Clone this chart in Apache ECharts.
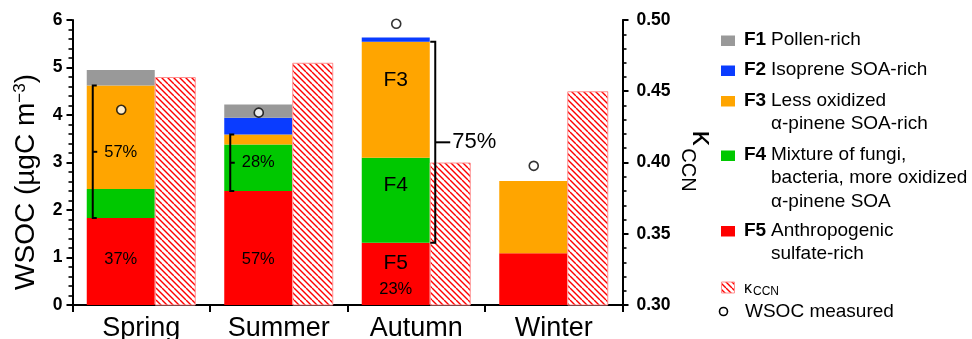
<!DOCTYPE html>
<html><head><meta charset="utf-8">
<script src="https://cdn.jsdelivr.net/npm/echarts/dist/echarts.min.js"></script>
<style>html,body{margin:0;padding:0;background:#fff}#c{width:972px;height:339px}</style>
</head><body><div id="c"></div>
<script>
// ---------- data ----------
const categories = ['Spring', 'Summer', 'Autumn', 'Winter'];
const f5 = [1.83, 2.40, 1.31, 1.09];   // Anthropogenic sulfate-rich
const f4 = [0.61, 0.98, 1.79, 0];      // Mixture of fungi, bacteria...
const f3 = [2.18, 0.21, 2.44, 1.52];   // Less oxidized a-pinene SOA-rich
const f2 = [0, 0.35, 0.09, 0];         // Isoprene SOA-rich
const f1 = [0.33, 0.28, 0, 0];         // Pollen-rich
const wsocMeasured = [4.11, 4.05, 5.92, 2.93];
const kappaCCN = [0.46, 0.47, 0.40, 0.45];
const leftTicks = [0, 1, 2, 3, 4, 5, 6];
const rightTicks = [0.30, 0.35, 0.40, 0.45, 0.50];
// in-bar annotations
const annCat = [0, 0, 1, 1, 2, 2, 2, 2];
const annY = [3.22, 0.95, 3.00, 0.95, 4.74, 2.52, 0.88, 0.33];
const annText = ['57%', '37%', '28%', '57%', 'F3', 'F4', 'F5', '23%'];
// brackets
const brCat = [0, 1, 2];
const brLow = [1.83, 2.40, 1.31];
const brHigh = [4.62, 3.59, 5.54];
const brSide = ['in', 'in', 'out'];
const brLabel = ['', '', '75%'];

const F = '"Liberation Sans", Arial, Helvetica, sans-serif';
const STACK_W = 68, HATCH_W = 41;
const STACK_OFF = -(STACK_W + HATCH_W) / 2 + STACK_W / 2; // stack centre rel. to category centre
const STACK_L = -(STACK_W + HATCH_W) / 2;
const STACK_R = STACK_L + STACK_W;

function makeHatch() {
  const c = document.createElement('canvas');
  c.width = 12; c.height = 12;
  const g = c.getContext('2d');
  g.fillStyle = '#fff'; g.fillRect(0, 0, 12, 12);
  g.strokeStyle = '#ff0000'; g.lineWidth = 1.4;
  for (const x0 of [-12, -6, 0, 6, 12]) {
    g.beginPath(); g.moveTo(x0, 0); g.lineTo(x0 + 12, 12); g.stroke();
  }
  return c;
}
const hatch = makeHatch();

const chart = echarts.init(document.getElementById('c'), null, {renderer: 'canvas'});

function stackSeries(name, data, color) {
  return {type: 'bar', name, data, stack: 'wsoc', barWidth: STACK_W, barGap: '0%',
    itemStyle: {color}, emphasis: {disabled: true}};
}

const legendItems = [
  {color: '#999999', b: 'F1', lines: ['Pollen-rich'], y: 40},
  {color: '#0a3cff', b: 'F2', lines: ['Isoprene SOA-rich'], y: 70},
  {color: '#ffa500', b: 'F3', lines: ['Less oxidized', 'α-pinene SOA-rich'], y: 100.5},
  {color: '#00c800', b: 'F4', lines: ['Mixture of fungi,', 'bacteria, more oxidized', 'α-pinene SOA'], y: 155},
  {color: '#ff0000', b: 'F5', lines: ['Anthropogenic', 'sulfate-rich'], y: 230.5}
];
const graphics = [];
legendItems.forEach(it => {
  graphics.push({type: 'rect', shape: {x: 721, y: it.y - 4.5, width: 14, height: 10.5}, style: {fill: it.color}});
  graphics.push({type: 'text', x: 744, y: it.y, style: {text: it.b, fontSize: 19, fontWeight: 'bold', fontFamily: F, fill: '#000', align: 'left', verticalAlign: 'middle'}});
  it.lines.forEach((t, k) => {
    graphics.push({type: 'text', x: 771, y: it.y + k * 23.2, style: {text: t, fontSize: 19, fontFamily: F, fill: '#000', align: 'left', verticalAlign: 'middle'}});
  });
});
graphics.push({type: 'rect', shape: {x: 721.5, y: 282, width: 13, height: 11}, style: {fill: {image: hatch, repeat: 'repeat'}, stroke: '#ff9090', lineWidth: 1}});
graphics.push({type: 'text', x: 744, y: 288.5, style: {text: 'κ', fontSize: 16, fontFamily: F, fill: '#000', align: 'left', verticalAlign: 'middle'}});
graphics.push({type: 'text', x: 753, y: 291.5, style: {text: 'CCN', fontSize: 12, fontFamily: F, fill: '#000', align: 'left', verticalAlign: 'middle'}});
graphics.push({type: 'circle', shape: {cx: 723.5, cy: 311.5, r: 4}, style: {fill: '#fff', stroke: '#000', lineWidth: 1.6}});
graphics.push({type: 'text', x: 745, y: 311.7, style: {text: 'WSOC measured', fontSize: 19, fontFamily: F, fill: '#000', align: 'left', verticalAlign: 'middle'}});
// axis titles
graphics.push({type: 'text', x: 26, y: 182, rotation: Math.PI / 2,
  style: {text: '{a|WSOC (µgC m}{s|−3}{a|)}', align: 'center', verticalAlign: 'middle',
    rich: {a: {fontSize: 28, fontFamily: F, fill: '#000'}, s: {fontSize: 17, fontFamily: F, fill: '#000', verticalAlign: 'top'}}}});
graphics.push({type: 'text', x: 701, y: 138, rotation: -Math.PI / 2, style: {text: 'κ', fontSize: 30, fontFamily: F, fill: '#000', align: 'center', verticalAlign: 'middle'}});
graphics.push({type: 'text', x: 688, y: 170, rotation: -Math.PI / 2, style: {text: 'CCN', fontSize: 20, fontFamily: F, fill: '#000', align: 'center', verticalAlign: 'middle'}});

const option = {
  animation: false,
  backgroundColor: '#fff',
  textStyle: {fontFamily: F},
  grid: {left: 72.5, right: 349.5, top: 20, bottom: 34, containLabel: false, outerBoundsMode: 'none'},
  xAxis: {
    type: 'category', data: categories,
    axisLine: {show: true, lineStyle: {color: '#000', width: 2}},
    axisTick: {show: true, alignWithLabel: false, length: 7, lineStyle: {color: '#000', width: 2}},
    axisLabel: {fontSize: 27, color: '#000', margin: 10, fontFamily: F},
    splitLine: {show: false}
  },
  yAxis: [
    {
      type: 'value', position: 'left', min: leftTicks[0], max: leftTicks[leftTicks.length - 1], interval: leftTicks[1] - leftTicks[0],
      axisLine: {show: true, onZero: false, lineStyle: {color: '#000', width: 2}},
      axisTick: {show: true, length: 6, lineStyle: {color: '#000', width: 2}},
      minorTick: {show: true, splitNumber: 5, length: 4, lineStyle: {color: '#000', width: 1.6}},
      axisLabel: {fontSize: 17.5, fontWeight: 'bold', color: '#000', margin: 10, fontFamily: F},
      splitLine: {show: false}
    },
    {
      type: 'value', position: 'right', min: rightTicks[0], max: rightTicks[rightTicks.length - 1], interval: 0.05,
      axisLine: {show: true, onZero: false, lineStyle: {color: '#000', width: 2}},
      axisTick: {show: true, length: 6, lineStyle: {color: '#000', width: 2}},
      minorTick: {show: true, splitNumber: 5, length: 4, lineStyle: {color: '#000', width: 1.6}},
      axisLabel: {fontSize: 17.5, fontWeight: 'bold', color: '#000', margin: 14, fontFamily: F,
        formatter: v => v.toFixed(2)},
      splitLine: {show: false}
    }
  ],
  series: [
    stackSeries('F5', f5, '#ff0000'),
    stackSeries('F4', f4, '#00c800'),
    stackSeries('F3', f3, '#ffa500'),
    stackSeries('F2', f2, '#0a3cff'),
    stackSeries('F1', f1, '#999999'),
    {type: 'bar', name: 'κCCN', yAxisIndex: 1, data: kappaCCN, barWidth: HATCH_W, barGap: '0%',
      itemStyle: {color: {image: hatch, repeat: 'repeat'}, borderColor: '#ff9090', borderWidth: 1},
      emphasis: {disabled: true}},
    {type: 'scatter', name: 'WSOC measured', data: wsocMeasured, symbol: 'circle', symbolSize: 9,
      symbolOffset: [STACK_OFF + 0.5, 0], z: 5,
      itemStyle: {color: '#fff', borderColor: '#000', borderWidth: 1.6}},
    {type: 'custom', name: 'ann', z: 6, data: annCat.map((c, i) => [c, annY[i]]),
      renderItem: (params, api) => {
        const p = api.coord([api.value(0), api.value(1)]);
        const t = annText[params.dataIndex];
        const fs = t[0] === 'F' ? 21 : 16.5;
        return {type: 'text', x: p[0] + STACK_OFF, y: p[1],
          style: {text: t, fontSize: fs, fontFamily: F, fill: '#000', align: 'center', verticalAlign: 'middle'}};
      }},
    {type: 'custom', name: 'brackets', z: 6, data: brCat.map((c, i) => [c, brLow[i], brHigh[i]]),
      renderItem: (params, api) => {
        const i = params.dataIndex;
        const c = api.value(0);
        const lo = api.coord([c, api.value(1)]);
        const hi = api.coord([c, api.value(2)]);
        const out = brSide[i] === 'out';
        const x = out ? lo[0] + STACK_R + 5.5 : lo[0] + STACK_L + 6;
        const cap = out ? -5 : 4;
        const tick = out ? 15 : 4.5;
        const ym = (lo[1] + hi[1]) / 2;
        const ls = {stroke: '#000', lineWidth: 2, fill: null, lineJoin: 'miter'};
        const children = [
          {type: 'polyline', shape: {points: [[x + cap, hi[1]], [x, hi[1]], [x, lo[1]], [x + cap, lo[1]]]}, style: ls},
          {type: 'line', shape: {x1: x, y1: ym, x2: x + tick, y2: ym}, style: ls}
        ];
        if (brLabel[i]) {
          children.push({type: 'text', x: x + tick + 2, y: ym,
            style: {text: brLabel[i], fontSize: 22, fontFamily: F, fill: '#000', align: 'left', verticalAlign: 'middle'}});
        }
        return {type: 'group', children};
      }}
  ],
  graphic: graphics
};
chart.setOption(option);
</script>
</body></html>
